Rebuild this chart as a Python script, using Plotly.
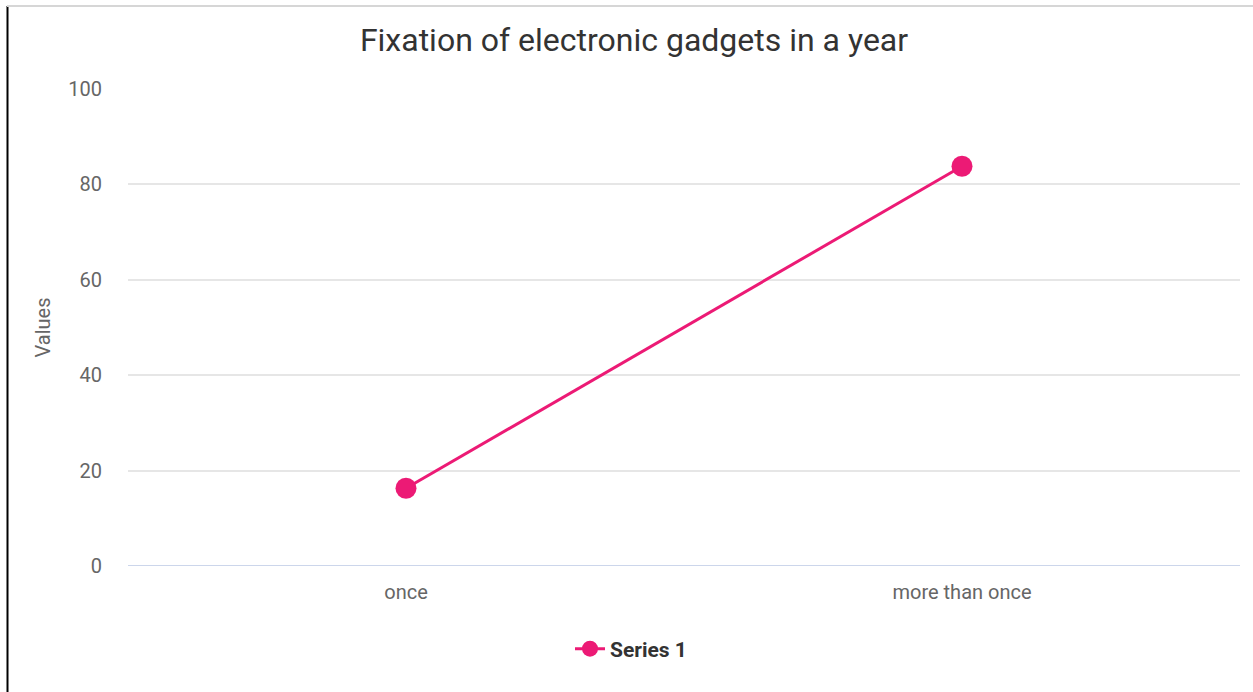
import plotly.graph_objects as go

categories = ["once", "more than once"]
series_1 = [16.3, 83.8]
y_ticks = [0, 20, 40, 60, 80, 100]

W, H = 1253, 692
ML, MR, MT, MB = 128, 13, 89, 126
pw, ph = W - ML - MR, H - MT - MB

pink = "#ec1a75"

fig = go.Figure()
fig.add_trace(go.Scatter(
    x=categories, y=series_1, mode="lines+markers", name="Series 1",
    line=dict(color=pink, width=3),
    marker=dict(color=pink, size=21),
))


def px_x(x):
    return (x - ML) / pw


def px_y(y):
    return (H - MB - y) / ph


# frame lines along the left and top edges of the page
fig.add_shape(type="line", xref="paper", yref="paper",
              x0=px_x(7.5), x1=px_x(7.5), y0=px_y(6), y1=px_y(H + 5),
              line=dict(color="#000000", width=2))
fig.add_shape(type="line", xref="paper", yref="paper",
              x0=px_x(7), x1=px_x(W + 5), y0=px_y(6), y1=px_y(6),
              line=dict(color="#d6d6d6", width=2))

fig.update_layout(
    width=W, height=H,
    margin=dict(l=ML, r=MR, t=MT, b=MB),
    paper_bgcolor="#ffffff", plot_bgcolor="#ffffff",
    font=dict(family="Roboto, sans-serif", color="#666666", size=20),
    title=dict(text="Fixation of electronic gadgets in a year",
               x=px_x(634), xanchor="center", xref="paper",
               y=1 - 40 / H, yanchor="middle",
               font=dict(size=32, color="#333333")),
    xaxis=dict(type="category", range=[-0.5, 1.5], showgrid=False,
               showline=False, zeroline=False, ticks="",
               ticklabelstandoff=12,
               tickfont=dict(size=20, color="#666666")),
    yaxis=dict(range=[0, 100], tickvals=y_ticks, showgrid=True,
               gridcolor="#e6e6e6", gridwidth=1.5, zeroline=False,
               showline=False, ticks="", ticklabelstandoff=25,
               tickfont=dict(size=20, color="#666666")),
    showlegend=True,
    legend=dict(orientation="h", x=px_x(570), xanchor="left",
                y=px_y(649), yanchor="middle",
                font=dict(size=21, color="#333333", weight="bold")),
)

fig.update_yaxes(title=dict(text="Values", font=dict(size=20, color="#666666"),
                            standoff=12))

# zero baseline in a bluish grey
fig.add_shape(type="line", xref="paper", yref="y", x0=0, x1=1, y0=0, y1=0,
              line=dict(color="#ccd6eb", width=2), layer="below")

fig.write_html("out.html")
